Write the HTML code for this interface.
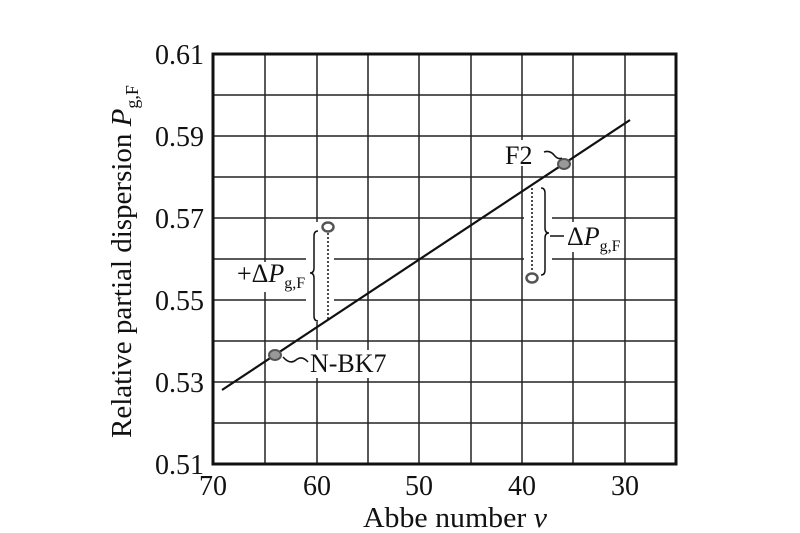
<!DOCTYPE html>
<html><head><meta charset="utf-8"><style>
html,body{margin:0;padding:0;background:#fff;}
svg{display:block;font-family:"Liberation Serif",serif;}
</style></head><body>
<svg width="800" height="533" viewBox="0 0 800 533" xmlns="http://www.w3.org/2000/svg">
<rect width="800" height="533" fill="#fff"/>
<g stroke="#222" stroke-width="1.5">
<line x1="265" y1="54" x2="265" y2="464"/>
<line x1="317" y1="54" x2="317" y2="464"/>
<line x1="368" y1="54" x2="368" y2="464"/>
<line x1="419" y1="54" x2="419" y2="464"/>
<line x1="471" y1="54" x2="471" y2="464"/>
<line x1="522" y1="54" x2="522" y2="464"/>
<line x1="573" y1="54" x2="573" y2="464"/>
<line x1="625" y1="54" x2="625" y2="464"/>
<line x1="213" y1="95" x2="676" y2="95"/>
<line x1="213" y1="136" x2="676" y2="136"/>
<line x1="213" y1="177" x2="676" y2="177"/>
<line x1="213" y1="218" x2="676" y2="218"/>
<line x1="213" y1="259" x2="676" y2="259"/>
<line x1="213" y1="300" x2="676" y2="300"/>
<line x1="213" y1="341" x2="676" y2="341"/>
<line x1="213" y1="382" x2="676" y2="382"/>
<line x1="213" y1="423" x2="676" y2="423"/>
</g>
<rect x="236" y="262" width="72" height="30" fill="#fff"/>
<rect x="306" y="222" width="28" height="100" fill="#fff"/>
<rect x="524" y="185" width="28" height="98" fill="#fff"/>
<rect x="552" y="222" width="70" height="30" fill="#fff"/>
<rect x="300" y="350" width="90" height="28" fill="#fff"/>
<rect x="503" y="140" width="34" height="26" fill="#fff"/>
<rect x="213" y="54" width="463" height="410" fill="none" stroke="#111" stroke-width="3"/>
<line x1="222" y1="390" x2="630" y2="120" stroke="#111" stroke-width="2.2"/>
<ellipse cx="275" cy="355" rx="6" ry="5" fill="#999" stroke="#555" stroke-width="2"/>
<ellipse cx="564" cy="164" rx="6" ry="5" fill="#999" stroke="#555" stroke-width="2"/>
<ellipse cx="328" cy="227" rx="5.5" ry="4.5" fill="#fff" stroke="#555" stroke-width="2.5"/>
<ellipse cx="532" cy="278" rx="5.5" ry="4.5" fill="#fff" stroke="#555" stroke-width="2.5"/>
<g stroke="#111" stroke-width="1.5" fill="none">
<line x1="328" y1="233" x2="328" y2="320" stroke-dasharray="2,2"/>
<line x1="532" y1="188" x2="532" y2="272" stroke-dasharray="2,2"/>
<path d="M318 231 Q314 231 314 236 L314 268 Q314 273 310 273 Q314 273 314 278 L314 316 Q314 321 318 321"/>
<path d="M541 188 Q545 188 545 193 L545 228 Q545 233 549 233 Q545 233 545 238 L545 270 Q545 275 541 275"/>
<path d="M283 357 Q290 365 296 360 T308 362"/>
<path d="M544 152 Q550 150 554 155 T562 158"/>
<line x1="550" y1="236" x2="564" y2="236"/>
</g>
<g fill="#111" font-size="28">
<text x="204" y="64" text-anchor="end">0.61</text>
<text x="204" y="146" text-anchor="end">0.59</text>
<text x="204" y="228" text-anchor="end">0.57</text>
<text x="204" y="310" text-anchor="end">0.55</text>
<text x="204" y="392" text-anchor="end">0.53</text>
<text x="204" y="474" text-anchor="end">0.51</text>
<text x="213" y="495" text-anchor="middle">70</text>
<text x="317" y="495" text-anchor="middle">60</text>
<text x="419" y="495" text-anchor="middle">50</text>
<text x="522" y="495" text-anchor="middle">40</text>
<text x="625" y="495" text-anchor="middle">30</text>
</g>
<g fill="#111" font-size="29">
<text x="363" y="527" textLength="184" lengthAdjust="spacingAndGlyphs">Abbe number <tspan font-style="italic">v</tspan></text>
<text transform="translate(131,438) rotate(-90)">Relative partial dispersion <tspan font-style="italic">P</tspan><tspan font-size="18" dy="7">g,F</tspan></text>
</g>
<g fill="#111" font-size="26">
<text x="310" y="372">N-BK7</text>
<text x="505" y="164">F2</text>
<text x="237" y="282">+Δ<tspan font-style="italic">P</tspan><tspan font-size="16" dy="6">g,F</tspan></text>
<text x="567" y="245">Δ<tspan font-style="italic">P</tspan><tspan font-size="16" dy="6">g,F</tspan></text>
</g>
</svg>
</body></html>
